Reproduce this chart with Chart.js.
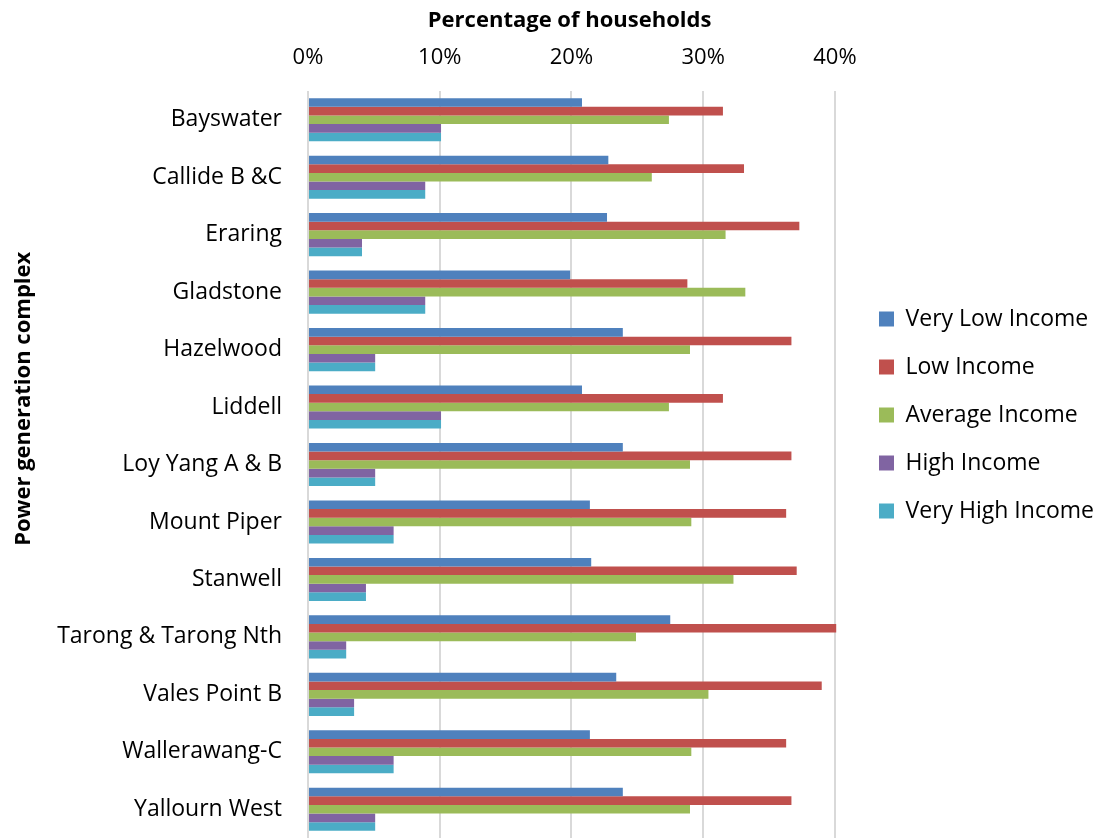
<!DOCTYPE html>
<html>
<head>
<meta charset="utf-8">
<script src="https://cdn.jsdelivr.net/npm/chart.js@4.4.1/dist/chart.umd.min.js"></script>
<style>
html, body { margin: 0; padding: 0; background: #fff; }
#wrap { width: 1095px; height: 838px; }
</style>
</head>
<body>
<div id="wrap"><canvas id="chartPower"></canvas></div>
<script>
// Dữ liệu (% hộ gia đình)
const complexes = ['Bayswater', 'Callide B &C', 'Eraring', 'Gladstone', 'Hazelwood', 'Liddell',
  'Loy Yang A & B', 'Mount Piper', 'Stanwell', 'Tarong & Tarong Nth', 'Vales Point B',
  'Wallerawang-C', 'Yallourn West'];
const veryLowIncome  = [20.8, 22.8, 22.7, 19.9, 23.9, 20.8, 23.9, 21.4, 21.5, 27.5, 23.4, 21.4, 23.9];
const lowIncome      = [31.5, 33.1, 37.3, 28.8, 36.7, 31.5, 36.7, 36.3, 37.1, 40.1, 39.0, 36.3, 36.7];
const averageIncome  = [27.4, 26.1, 31.7, 33.2, 29.0, 27.4, 29.0, 29.1, 32.3, 24.9, 30.4, 29.1, 29.0];
const highIncome     = [10.1, 8.9, 4.1, 8.9, 5.1, 10.1, 5.1, 6.5, 4.4, 2.9, 3.5, 6.5, 5.1];
const veryHighIncome = [10.1, 8.9, 4.1, 8.9, 5.1, 10.1, 5.1, 6.5, 4.4, 2.9, 3.5, 6.5, 5.1];
const seriesNames = ['Very Low Income', 'Low Income', 'Average Income', 'High Income', 'Very High Income'];
const xTicks = [0, 10, 20, 30, 40];

const FONT = '"Open Sans", "DejaVu Sans", sans-serif';
const colors = ['#4F81BD', '#C0504D', '#9BBB59', '#8064A2', '#4BACC6'];
const seriesData = [veryLowIncome, lowIncome, averageIncome, highIncome, veryHighIncome];
// trục X kéo dài hơn 40% một chút để chú thích đứng đúng chỗ
const X_MAX = 41.45;

const datasets = seriesNames.map((name, i) => ({
  label: name,
  data: seriesData[i],
  backgroundColor: colors[i],
  borderWidth: 0,
  categoryPercentage: 0.75,
  barPercentage: 1
}));

// Tiêu đề trục trong bản gốc không nằm giữa, đẩy bằng khoảng trắng
const xTitle = 'Percentage of households' + ' '.repeat(4);
const yTitle = ' '.repeat(23) + 'Power generation complex';

new Chart(document.getElementById('chartPower'), {
  type: 'bar',
  data: { labels: complexes, datasets },
  options: {
    indexAxis: 'y',
    responsive: true,
    maintainAspectRatio: false,
    animation: false,
    devicePixelRatio: 1,
    layout: { padding: { top: -8, left: 0, right: 0, bottom: 0 } },
    plugins: {
      tooltip: { enabled: false },
      legend: {
        position: 'right',
        maxWidth: 241,
        labels: {
          boxWidth: 15,
          boxHeight: 15,
          padding: 25,
          color: '#000',
          font: { family: FONT, size: 23 }
        }
      }
    },
    scales: {
      x: {
        position: 'top',
        min: 0,
        max: X_MAX,
        afterBuildTicks: axis => { axis.ticks = xTicks.map(v => ({ value: v })); },
        afterFit: scale => {
          scale.height = 99;
          scale.paddingLeft = 0;
          scale.paddingRight = 0;
        },
        ticks: {
          callback: v => v + '%',
          color: '#000',
          padding: 20,
          font: { family: FONT, size: 22 }
        },
        grid: { color: '#d9d9d9', lineWidth: 2, drawTicks: false },
        border: { display: false },
        title: {
          display: true,
          text: xTitle,
          color: '#000',
          font: { family: FONT, size: 22, weight: 'bold' },
          padding: { top: 16, bottom: 0 }
        }
      },
      y: {
        afterFit: scale => {
          scale.width = 308;
          scale.paddingTop = 0;
          scale.paddingBottom = 0;
        },
        ticks: {
          color: '#000',
          padding: 26,
          font: { family: FONT, size: 23 }
        },
        grid: { display: false, drawTicks: false },
        border: { display: false },
        title: {
          display: true,
          text: yTitle,
          color: '#000',
          font: { family: FONT, size: 22, weight: 'bold' },
          padding: { top: 11, bottom: 0 }
        }
      }
    }
  }
});
</script>
</body>
</html>
